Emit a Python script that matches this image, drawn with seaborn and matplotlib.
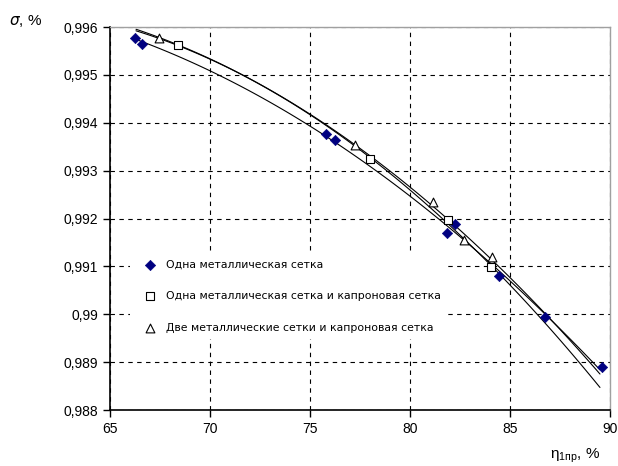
import numpy as np
import pandas as pd
import seaborn as sns
sns.set_theme(context='paper', style='ticks')
import matplotlib.pyplot as plt
plt.rcParams['font.family'] = ['Liberation Sans', 'DejaVu Sans']
plt.rcParams['text.color'] = 'black'
plt.rcParams['xtick.color'] = 'black'
plt.rcParams['ytick.color'] = 'black'

# one metal mesh
x_metal = [66.25, 66.58, 75.8, 76.25, 81.83, 82.25, 84.47, 86.75, 89.58]
y_metal = [0.99578, 0.99564, 0.99377, 0.99364, 0.99169, 0.99189, 0.99079, 0.98995, 0.98889]
# one metal mesh + nylon mesh
x_nylon = [68.38, 78.0, 81.88, 84.03]
y_nylon = [0.99562, 0.99324, 0.99197, 0.99099]
# two metal meshes + nylon mesh
x_two = [67.47, 77.25, 81.13, 82.7, 84.08]
y_two = [0.99578, 0.99353, 0.99235, 0.99155, 0.99120]

labels = ['Одна металлическая сетка',
          'Одна металлическая сетка и капроновая сетка',
          'Две металлические сетки и капроновая сетка']
xticks = [65, 70, 75, 80, 85, 90]
yticks = [0.988, 0.989, 0.99, 0.991, 0.992, 0.993, 0.994, 0.995, 0.996]
ytick_labels = ['0,988', '0,989', '0,99', '0,991', '0,992', '0,993', '0,994', '0,995', '0,996']

fig = plt.figure(figsize=(6.18, 4.66), dpi=100)
ax = fig.add_axes([0.178, 0.12, 0.809, 0.822])

# polynomial trend lines (2nd order), as in the original spreadsheet chart
xs = np.linspace(66.3, 89.5, 100)
for xd, yd in [(x_metal, y_metal), (x_nylon, y_nylon), (x_two, y_two)]:
    coef = np.polyfit(xd, yd, 2)
    sns.lineplot(x=xs, y=np.polyval(coef, xs), ax=ax, color='black', lw=0.8, zorder=2)

sns.scatterplot(x=x_metal, y=y_metal, ax=ax, marker='D', s=28, color='#000080',
                edgecolor='#000080', label=labels[0], zorder=3)
sns.scatterplot(x=x_nylon, y=y_nylon, ax=ax, marker='s', s=30, facecolor='white',
                edgecolor='black', linewidth=0.8, label=labels[1], zorder=3)
sns.scatterplot(x=x_two, y=y_two, ax=ax, marker='^', s=40, facecolor='white',
                edgecolor='black', linewidth=0.8, label=labels[2], zorder=3)

ax.set_xlim(65, 90)
ax.set_ylim(0.988, 0.996)
ax.set_xticks(xticks)
ax.set_yticks(yticks)
ax.set_yticklabels(ytick_labels)
ax.tick_params(labelsize=10, length=5, width=1, color='black', labelcolor='black', direction='out')
ax.grid(True, color='black', linestyle=(0, (4, 4)), linewidth=0.8)
ax.set_axisbelow(True)
for s in ['left', 'bottom']:
    ax.spines[s].set_color('black')
    ax.spines[s].set_linewidth(1.2)
for s in ['top', 'right']:
    ax.spines[s].set_color('#a0a0a0')
    ax.spines[s].set_linewidth(1)

leg = ax.legend(loc='upper left', bbox_to_anchor=(0.04, 0.41),
                prop={'family': 'DejaVu Sans', 'size': 7.8},
                frameon=True, facecolor='white', edgecolor='none', framealpha=1,
                fancybox=False, labelspacing=2.0, handletextpad=0.3, borderpad=0.6,
                handlelength=2.4, borderaxespad=0)
leg.set_zorder(4)
for t in leg.get_texts():
    t.set_color('black')

fig.text(0.015, 0.955, '$\\sigma$, %', fontsize=11, va='center', ha='left')
fig.text(0.972, 0.022, 'η$_{\\mathregular{1пр}}$, %', fontsize=11, va='center', ha='right')

fig.savefig('out.png', dpi=100)
